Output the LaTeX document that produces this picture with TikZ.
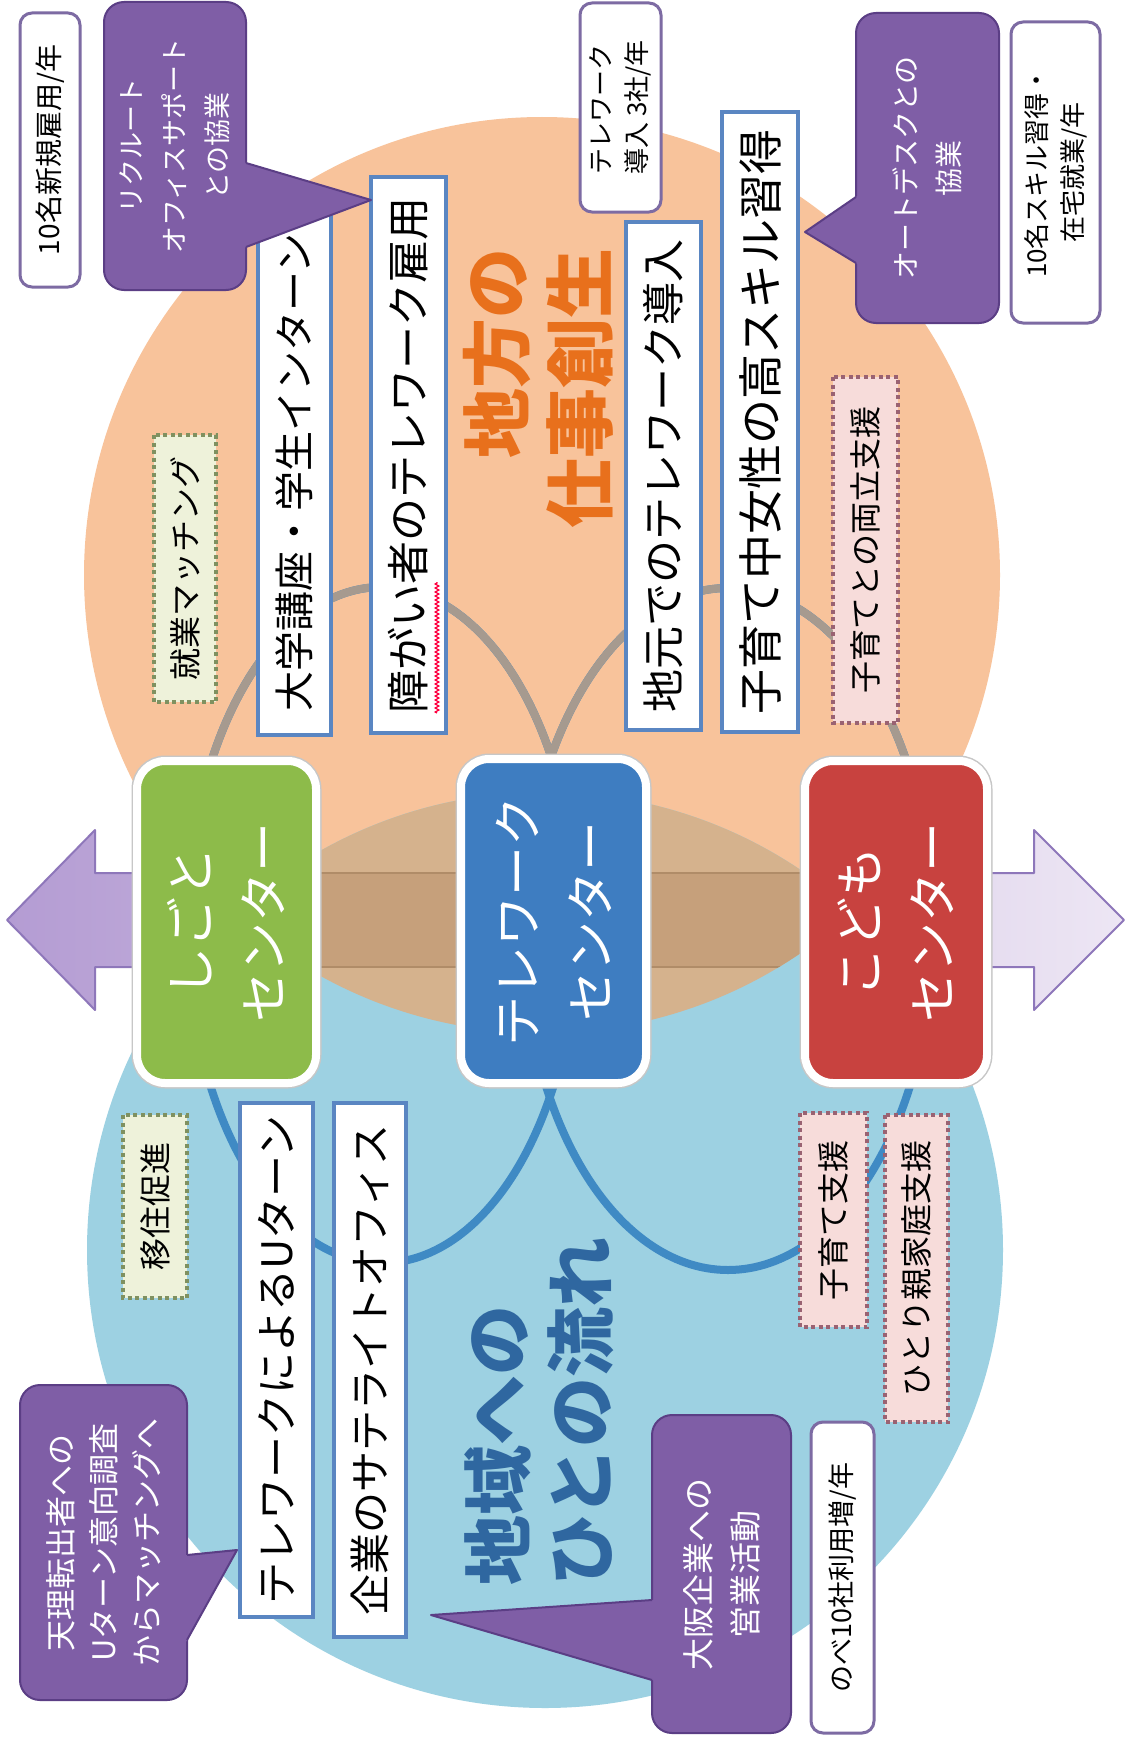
\documentclass[tikz,border=0pt]{standalone}
\usepackage{fontspec}
\newfontfamily\jp{Noto Sans CJK JP}
\usetikzlibrary{decorations.pathmorphing,calc}
\newcommand{\myfs}[2]{\fontsize{#1}{#2}\selectfont}
\definecolor{orangeC}{HTML}{F8C39B}
\definecolor{blueC}{HTML}{9DD1E2}
\definecolor{lensC}{HTML}{D5B28D}
\definecolor{bandC}{HTML}{C6A07B}
\definecolor{bandLine}{HTML}{B08C68}
\definecolor{ellG}{HTML}{A69A8F}
\definecolor{ellB}{HTML}{3F8AC4}
\definecolor{greenBox}{HTML}{8DBB4A}
\definecolor{blueBox}{HTML}{3E7DC1}
\definecolor{redBox}{HTML}{C8423F}
\definecolor{itemBorder}{HTML}{5A86C2}
\definecolor{callFill}{HTML}{7F5EA6}
\definecolor{callLine}{HTML}{5B3E85}
\definecolor{smallBorder}{HTML}{7D6BA3}
\definecolor{dotGreen}{HTML}{7F9160}
\definecolor{dotGreenFill}{HTML}{EEF2DA}
\definecolor{dotPink}{HTML}{9A6272}
\definecolor{dotPinkFill}{HTML}{F7DCDA}
\definecolor{titleO}{HTML}{E8701C}
\definecolor{titleB}{HTML}{2F67A0}
\definecolor{arrL}{HTML}{B49CD3}
\definecolor{arrR}{HTML}{EDE6F4}
\definecolor{arrLine}{HTML}{8E77BA}
\tikzset{
  rbox/.style={rotate=90, inner sep=0pt, outer sep=0pt, align=center},
  cbox/.style={rbox, rounded corners=28pt, draw=white, line width=8pt, text=white,
    font={\jp\myfs{50}{73}}, preaction={draw=black!22, line width=11pt}},
  item/.style={rbox, draw=itemBorder, line width=3.5pt, fill=white, font={\jp\myfs{#1}{#1}}},
  dotg/.style={rbox, draw=dotGreen, fill=dotGreenFill, line width=4pt,
    dash pattern=on 4pt off 3.5pt, font={\jp\myfs{32}{32}}},
  dotp/.style={rbox, draw=dotPink, fill=dotPinkFill, line width=4pt,
    dash pattern=on 4pt off 3.5pt, font={\jp\myfs{32}{32}}},
  small/.style={rbox, draw=smallBorder, line width=3pt, fill=white, rounded corners=12pt},
  callout/.style={rbox, fill=callFill, draw=callLine, line width=2pt, rounded corners=20pt, text=white},
  ptrfill/.style={fill=callFill},
  ptrline/.style={draw=callLine, line width=2pt, line join=round},
}
\begin{document}
\begin{tikzpicture}[x=1pt,y=-1pt]
\useasboundingbox (0,0) rectangle (1126,1747);
\fill[white] (0,0) rectangle (1126,1747);

% double arrow
\draw[arrLine, line width=2pt, line join=round, left color=arrL, right color=arrR]
  (7,920) -- (95,830) -- (95,873) -- (1034,873) -- (1034,830) -- (1124,920)
  -- (1034,1010) -- (1034,967) -- (95,967) -- (95,1010) -- cycle;

% big circles
\fill[orangeC] (542,575) circle [radius=458pt];
\fill[blueC] (545,1250) circle [radius=458pt];
\begin{scope}
  \clip (542,575) circle [radius=458pt];
  \clip (545,1250) circle [radius=458pt];
  \fill[lensC] (0,700) rectangle (1126,1100);
  \fill[bandC] (0,873) rectangle (1126,967);
  \draw[bandLine, line width=1.5pt] (0,873) -- (1126,873) (0,967) -- (1126,967);
\end{scope}

% inner ellipses
\draw[ellB, line width=8pt] (382,925) ellipse [x radius=195pt, y radius=338pt];
\draw[ellB, line width=8pt] (728,929) ellipse [x radius=205pt, y radius=341pt];
\begin{scope}
  \clip (542,575) circle [radius=458pt];
  \draw[ellG, line width=8pt] (382,925) ellipse [x radius=195pt, y radius=338pt];
  \draw[ellG, line width=8pt] (728,929) ellipse [x radius=205pt, y radius=341pt];
\end{scope}

% centre boxes
\node[cbox, fill=greenBox, minimum width=322pt, minimum height=179pt] (gC) at (226.5,922) {しごと\\センター};
\node[cbox, fill=blueBox, minimum width=324pt, minimum height=185pt] (tC) at (553.5,921) {テレワーク\\センター};
\node[cbox, fill=redBox, minimum width=322pt, minimum height=182pt] (kC) at (896,922) {こども\\センター};

% item boxes
\node[item=40, minimum width=525pt, minimum height=73pt] (i1) at (294.5,472.5) {大学講座・学生インターン};
\node[item=43, minimum width=556pt, minimum height=75pt] (i2) at (408.5,455) {障がい者のテレワーク雇用};
\node[item=43, minimum width=508pt, minimum height=75pt] (i3) at (663.5,476) {地元でのテレワーク導入};
\node[item=45, minimum width=620pt, minimum height=76pt] (i4) at (760,422) {子育て中女性の高スキル習得};
\node[item=42, minimum width=514pt, minimum height=73pt] (i5) at (276.5,1360) {テレワークによるUターン};
\node[item=41, minimum width=534pt, minimum height=72pt] (i6) at (370,1370) {企業のサテライトオフィス};
\draw[red!75!magenta, line width=1.3pt, decorate, decoration={zigzag, amplitude=1.8pt, segment length=4pt}]
  (437,713) -- (437,582);

% dotted boxes
\node[dotg, minimum width=267pt, minimum height=62pt] (d1) at (185,568.5) {就業マッチング};
\node[dotg, minimum width=183pt, minimum height=64pt] (d2) at (155,1206.5) {移住促進};
\node[dotp, minimum width=346pt, minimum height=65pt] (d3) at (865.5,550) {子育てとの両立支援};
\node[dotp, minimum width=214pt, minimum height=67pt] (d4) at (833.5,1220) {子育て支援};
\node[dotp, minimum width=307pt, minimum height=63pt] (d5) at (916.5,1268.5) {ひとり親家庭支援};

% titles
\node[rbox, text=titleO, font={\jp\bfseries\myfs{70}{83}}, align=right] (t1) at (538.5,388.5) {地方の\\仕事創生};
\node[rbox, text=titleB, font={\jp\bfseries\myfs{70}{83}}, align=left] (t2) at (539,1411.5) {地域への\\ひとの流れ};

% small white boxes
\node[small, minimum width=274pt, minimum height=60pt, font={\jp\myfs{28}{34}}] (w1) at (50,150) {10名新規雇用/年};
\node[small, minimum width=209pt, minimum height=81pt, font={\jp\myfs{26}{36}}, align=left] (w2) at (620.5,107.5) {テレワーク\\導入 3社/年};
\node[small, minimum width=301pt, minimum height=89pt, font={\jp\myfs{26}{36}}] (w3) at (1055.5,172.5) {10名スキル習得・\\在宅就業/年};
\node[small, minimum width=311pt, minimum height=63pt, font={\jp\myfs{27}{34}}] (w4) at (842.5,1577.5) {のべ10社利用増/年};

% callouts
\node[callout, minimum width=288pt, minimum height=142pt, font={\jp\myfs{27}{43}}] (c1) at (175,146) {リクルート\\オフィスサポート\\との協業};
\node[callout, minimum width=310pt, minimum height=143pt, font={\jp\myfs{28}{43}}] (c2) at (927.5,168) {オートデスクとの\\協業};
\node[callout, minimum width=315pt, minimum height=167pt, font={\jp\myfs{31}{43}}] (c3) at (103.5,1542.5) {天理転出者への\\Uターン意向調査\\からマッチングへ};
\node[callout, minimum width=318pt, minimum height=139pt, font={\jp\myfs{32}{47}}] (c4) at (721.5,1574) {大阪企業への\\営業活動};

% callout pointers
\coordinate (tip1) at (371,200);
\coordinate (c1a) at ($(c1.south)+(0,17)$);
\coordinate (c1b) at ($(c1.south)+(0,101)$);
\fill[ptrfill] (tip1) -- ($(tip1)!1.06!(c1a)$) -- ($(tip1)!1.06!(c1b)$) -- cycle;
\draw[ptrline] (c1a) -- (tip1) -- (c1b);

\coordinate (tip2) at (805,232);
\coordinate (c2a) at ($(c2.north)+(0,29)$);
\coordinate (c2b) at ($(c2.north)+(0,95)$);
\fill[ptrfill] (tip2) -- ($(tip2)!1.12!(c2a)$) -- ($(tip2)!1.12!(c2b)$) -- cycle;
\draw[ptrline] (c2a) -- (tip2) -- (c2b);

\coordinate (tip3) at (237,1550);
\coordinate (c3a) at ($(c3.south)+(0,12.5)$);
\coordinate (c3b) at ($(c3.south)+(0,97.5)$);
\fill[ptrfill] (tip3) -- ($(tip3)!1.1!(c3a)$) -- ($(tip3)!1.1!(c3b)$) -- cycle;
\draw[ptrline] (c3a) -- (tip3) -- (c3b);

\coordinate (tip4) at (431,1615);
\coordinate (c4a) at ($(c4.north)+(0,26)$);
\coordinate (c4b) at ($(c4.north)+(0,106)$);
\fill[ptrfill] (tip4) -- ($(tip4)!1.03!(c4a)$) -- ($(tip4)!1.03!(c4b)$) -- cycle;
\draw[ptrline] (c4a) -- (tip4) -- (c4b);
\end{tikzpicture}
\end{document}
